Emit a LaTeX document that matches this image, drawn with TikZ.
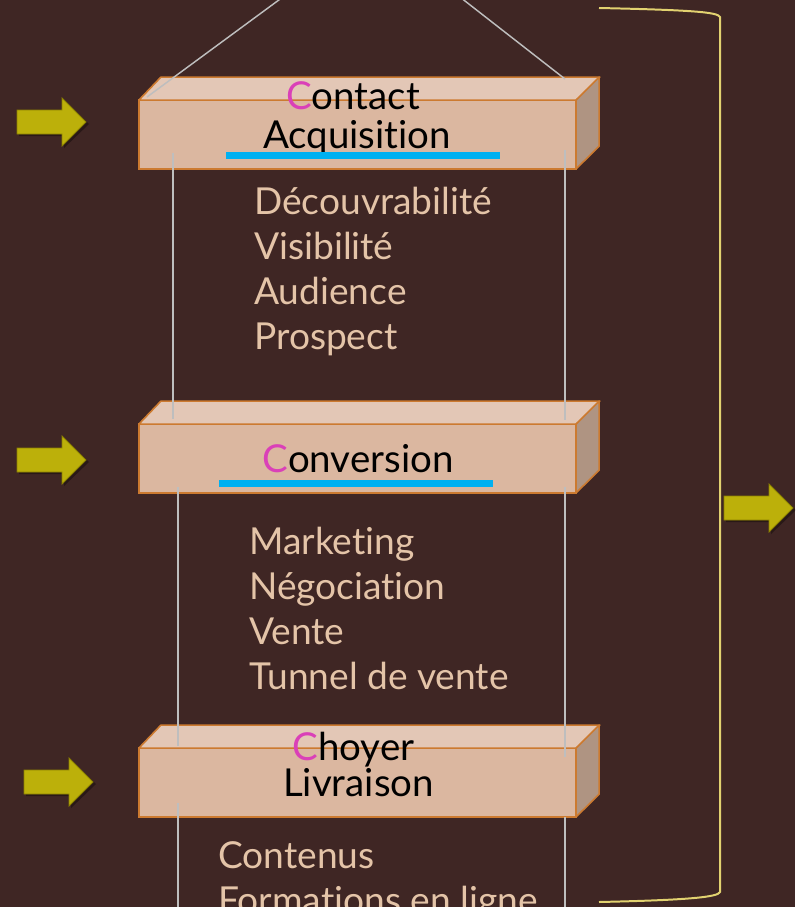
\documentclass[tikz,border=0pt]{standalone}
\usepackage{fontspec}
\setmainfont{Lato}[Ligatures=NoCommon]
\definecolor{bgbrown}{RGB}{63,38,36}
\definecolor{facefront}{RGB}{219,183,160}
\definecolor{facetop}{RGB}{227,199,182}
\definecolor{faceside}{RGB}{175,148,130}
\definecolor{edgeorange}{RGB}{204,122,48}
\definecolor{initpink}{RGB}{218,64,184}
\definecolor{barblue}{RGB}{0,176,240}
\definecolor{peach}{RGB}{228,196,168}
\definecolor{olive}{RGB}{188,176,10}
\definecolor{olivedark}{RGB}{140,130,0}
\definecolor{bracketyellow}{RGB}{226,210,112}
\definecolor{stringgrey}{RGB}{190,190,190}

\begin{document}
\begin{tikzpicture}[x=0.0265cm,y=-0.0265cm]
	\tikzstyle{frontface}=[rectangle,fill=facefront,draw=edgeorange,line width=1.2pt,minimum width=329.8pt,minimum height=51.8pt,inner sep=0pt,outer sep=0pt]
	\tikzstyle{topface}=[fill=facetop,draw=edgeorange,line width=1.2pt,line join=round]
	\tikzstyle{sideface}=[fill=faceside,draw=edgeorange,line width=1.2pt,line join=round]
	\tikzstyle{boxlabel}=[text=black,font=\fontsize{29}{34}\selectfont,anchor=base,inner sep=0pt]
	\tikzstyle{listtext}=[text=peach,font=\fontsize{28}{33}\selectfont,anchor=base west,inner sep=0pt]
	\tikzstyle{string}=[draw=stringgrey,line width=1.1pt]
	\tikzstyle{bluebar}=[fill=barblue]
	\tikzset{fatarrow/.pic={
		\fill[black,opacity=0.35] (2,-10) -- (47,-10) -- (47,-22) -- (72,2) -- (47,26) -- (47,14) -- (2,14) -- cycle;
		\filldraw[fill=olive,draw=olivedark,line width=0.6pt,line join=miter] (0,-12) -- (45,-12) -- (45,-24) -- (69,0) -- (45,24) -- (45,12) -- (0,12) -- cycle;
	}}
	\clip (0,0) rectangle (795,907);
	\fill[bgbrown] (0,0) rectangle (795,907);

	% boxes
	\foreach \y/\n in {100/acq,424/conv,748/choy}{
		\node[frontface] (\n) at (357.5,\y+34.5) {};
		\draw[topface] (\n.north west) -- ++(22,-23) -- ++(439,0) -- (\n.north east) -- cycle;
		\draw[sideface] (\n.north east) -- ++(23,-23) -- ++(0,69) -- (\n.south east) -- cycle;
	}

	% hanging strings
	\coordinate (apex) at (374,-70);
	\draw[string] (apex) -- (147,97);
	\draw[string] (apex) -- (565,79);
	\draw[string] (173,153) -- (173,419);
	\draw[string] (565,150) -- (565,420);
	\draw[string] (178,487) -- (178,746);
	\draw[string] (565,487) -- (565,757);
	\draw[string] (178,803) -- (178,920);
	\draw[string] (565,817) -- (565,920);

	% labels on the boxes
	\node[boxlabel] (contact) at (353,110) {\textcolor{initpink}{C}ontact};
	\node[boxlabel] (acquisition) at (357,148) {Acquisition};
	\fill[bluebar] (226,152) rectangle (500,159);
	\node[boxlabel] (conversion) at (358,472) {\textcolor{initpink}{C}onversion};
	\fill[bluebar] (219,480) rectangle (493,487);
	\node[boxlabel] (choyer) at (353.5,760) {\textcolor{initpink}{C}hoyer};
	\node[boxlabel] (livraison) at (358.5,796) {Livraison};

	% lists
	\foreach \w [count=\i] in {Découvrabilité,Visibilité,Audience,Prospect}
		\node[listtext] (acq-\i) at (254,{214+45*(\i-1)}) {\w};
	\foreach \w [count=\i] in {Marketing,Négociation,Vente,Tunnel de vente}
		\node[listtext] (conv-\i) at (249,{554+45*(\i-1)}) {\w};
	\foreach \w [count=\i] in {Contenus,Formations en ligne}
		\node[listtext] (choy-\i) at (218,{868+45*(\i-1)}) {\w};

	% bracket
	\draw[bracketyellow,line width=1.5pt] (599,8) .. controls (690,10) and (718,12) .. (720,17) -- (720,892) .. controls (718,897) and (690,900) .. (599,902);

	% arrows
	\pic at (17,122) {fatarrow};
	\pic at (17,460) {fatarrow};
	\pic at (24,782) {fatarrow};
	\pic at (724,508) {fatarrow};
\end{tikzpicture}
\end{document}
